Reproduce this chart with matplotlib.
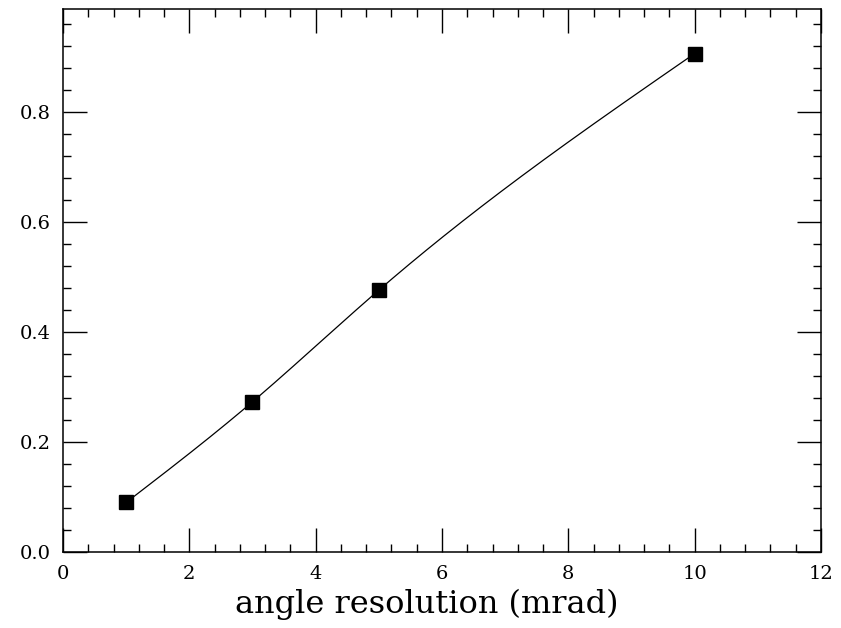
"""Angle resolution curve, PGPLOT-like look."""

import matplotlib

matplotlib.use("Agg")

import matplotlib.pyplot as plt
import numpy as np
from matplotlib.ticker import MultipleLocator

angle_res = [1.0, 3.0, 5.0, 10.0]
fraction = [0.090, 0.273, 0.476, 0.906]


def natural_spline(x, y, n=300):
    """Smooth natural cubic spline through the points, for drawing the line."""
    x = np.asarray(x, dtype=float)
    y = np.asarray(y, dtype=float)
    k = len(x)
    h = np.diff(x)
    a = np.zeros((k, k))
    b = np.zeros(k)
    a[0, 0] = a[-1, -1] = 1.0
    for i in range(1, k - 1):
        a[i, i - 1] = h[i - 1]
        a[i, i] = 2 * (h[i - 1] + h[i])
        a[i, i + 1] = h[i]
        b[i] = 6 * ((y[i + 1] - y[i]) / h[i] - (y[i] - y[i - 1]) / h[i - 1])
    m = np.linalg.solve(a, b)
    xs = np.linspace(x[0], x[-1], n)
    idx = np.clip(np.searchsorted(x, xs) - 1, 0, k - 2)
    x0, x1 = x[idx], x[idx + 1]
    hh = x1 - x0
    t0, t1 = x1 - xs, xs - x0
    ys = (m[idx] * t0**3 + m[idx + 1] * t1**3) / (6 * hh) \
        + (y[idx] / hh - m[idx] * hh / 6) * t0 \
        + (y[idx + 1] / hh - m[idx + 1] * hh / 6) * t1
    return xs, ys


plt.rcParams["font.family"] = ["DejaVu Serif"]

fig = plt.figure(figsize=(8.41, 6.28), dpi=100)
ax = fig.add_axes([0.0749, 0.121, 0.9013, 0.8647])

xs, ys = natural_spline(angle_res, fraction)
ax.plot(xs, ys, color="black", linewidth=0.9)
ax.plot(angle_res, fraction, linestyle="none", marker="s", markersize=10,
        color="black")

ax.set_xlim(0, 12)
ax.set_ylim(0, 0.987)
ax.xaxis.set_major_locator(MultipleLocator(2))
ax.xaxis.set_minor_locator(MultipleLocator(0.4))
ax.yaxis.set_major_locator(MultipleLocator(0.2))
ax.yaxis.set_minor_locator(MultipleLocator(0.04))
ax.yaxis.set_major_formatter(plt.FuncFormatter(lambda v, _: f"{v:.1f}"))

ax.tick_params(which="both", direction="in", top=True, right=True,
               labelsize=14, width=1.0, color="black")
ax.tick_params(which="major", length=17, pad=9)
ax.tick_params(which="minor", length=6)
for spine in ax.spines.values():
    spine.set_linewidth(1.1)

ax.set_xlabel("angle resolution (mrad)", fontsize=23)
ax.xaxis.set_label_coords(0.48, -0.068)

fig.savefig("out.png", dpi=100)
plt.close(fig)
